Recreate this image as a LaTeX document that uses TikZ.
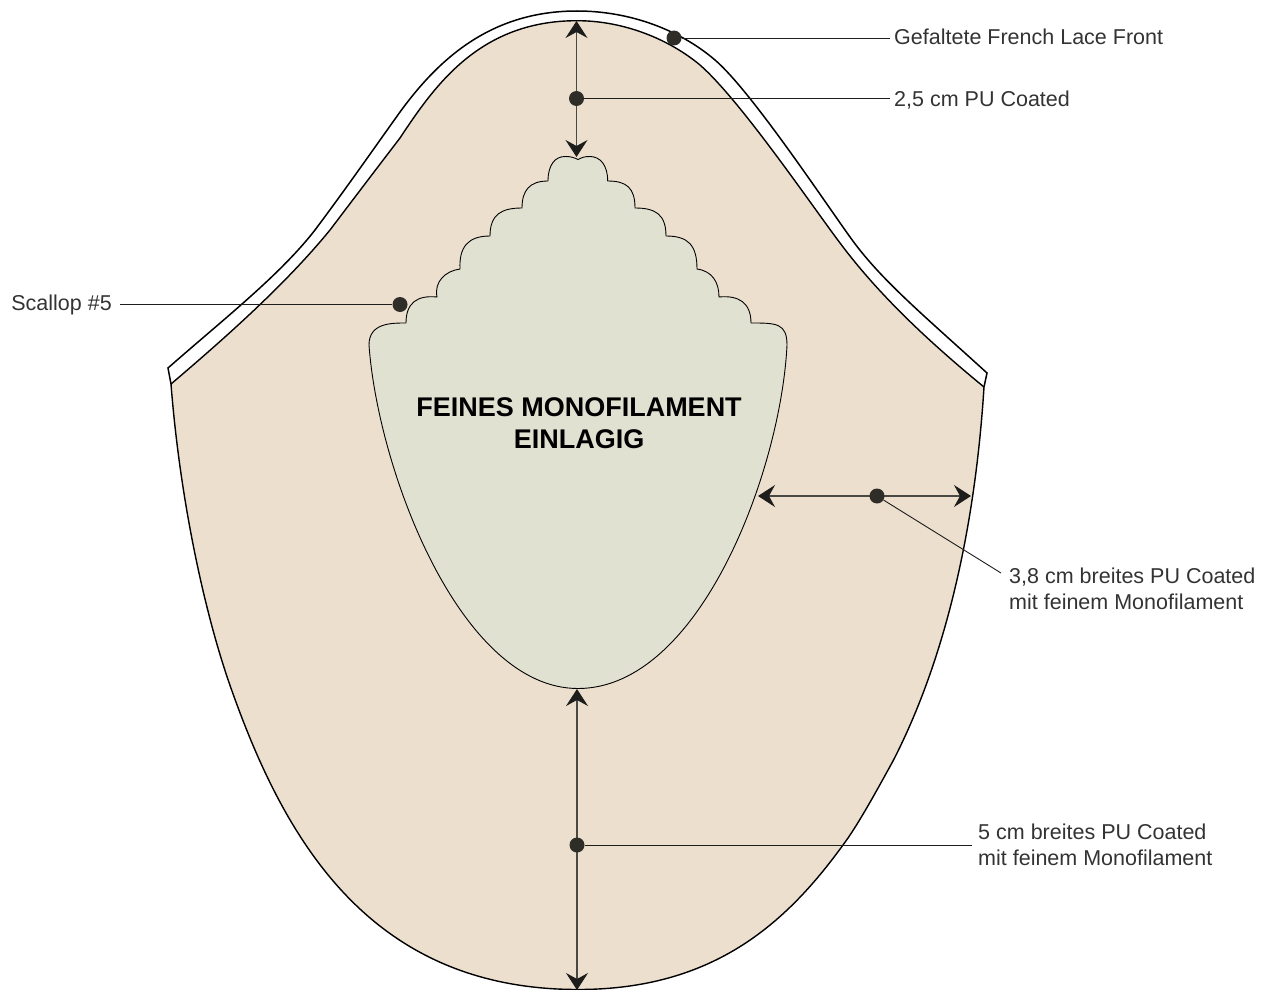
\documentclass[tikz,border=0pt]{standalone}
\usepackage{fontspec}
\setmainfont{Liberation Sans}
\usetikzlibrary{arrows.meta}
\definecolor{capcolor}{HTML}{EDDFCE}
\definecolor{monocolor}{HTML}{E1E1D2}
\definecolor{dotcolor}{HTML}{2F2D28}
\definecolor{tipcolor}{HTML}{1D1D1B}
\definecolor{shaftcolor}{HTML}{4A4843}

\begin{document}
\begin{tikzpicture}[x=1pt, y=-1pt]
    \tikzset{
        every node/.style={font=\fontsize{21.5}{26}\selectfont, text=black!80},
        callout/.style={inner sep=4pt, anchor=west, align=left},
        dot/.style={circle, fill=dotcolor, inner sep=0pt, minimum size=15pt},
        leader/.style={line width=0.9pt, color=tipcolor},
        span/.style={{Stealth[length=17pt, width=22pt, inset=6pt, color=tipcolor]}-{Stealth[length=17pt, width=22pt, inset=6pt, color=tipcolor]}, line width=1.1pt, color=shaftcolor}
    }
    \useasboundingbox (0, 0) rectangle (1275, 990);

    % 1. Key coordinates
    \coordinate (LaceL) at (168, 368);
    \coordinate (LaceR) at (987, 373);
    \coordinate (CapL) at (171, 384);
    \coordinate (CapR) at (984, 387);

    % 2. Cap body: inner edge of the lace, then the lower rim
    \draw[fill=capcolor, line width=1.4pt, line join=miter] (CapL)
        .. controls (225,338) and (285,285) .. (330,230)
        .. controls (355,197) and (377,168) .. (400,138)
        .. controls (435,85) and (480,20.7) .. (577,20.7)
        .. controls (625,20.7) and (670,40) .. (700,65)
        .. controls (740,100) and (810,203) .. (840,243)
        .. controls (870,283) and (912,328) .. (CapR)
        .. controls (975,530) and (945,660) .. (893,761)
        .. controls (877,790) and (858,825) .. (843,845)
        .. controls (785,925) and (712,989.5) .. (578,989.5)
        .. controls (370,989.5) and (285,840) .. (232,691)
        .. controls (205,616) and (180,500) .. (CapL)
        -- cycle;

    % 3. French Lace band
    \draw[line width=1.5pt, line join=miter] (CapL) -- (LaceL)
        .. controls (225,318) and (280,275) .. (315,230)
        .. controls (345,190) and (375,147) .. (400,112)
        .. controls (438,60) and (490,11) .. (577,11)
        .. controls (630,11) and (680,30) .. (715,60)
        .. controls (750,90) and (820,195) .. (850,237)
        .. controls (880,279) and (920,312) .. (LaceR)
        -- (CapR);

    % 4. Monofilament panel with scallops
    \draw[fill=monocolor, line width=0.9pt]
        (578,159.5)
        .. controls +(4,-2) and +(-6,0) .. (590,156.5)
        .. controls +(10,0) and +(0,-16) .. (607.7,181)
        .. controls +(19,0) and +(0,-20) .. (635,208)
        .. controls +(20,0) and +(0,-22) .. (666,236)
        .. controls +(22,0) and +(0,-24) .. (697,269)
        .. controls +(15,2) and +(0,-15) .. (719,297)
        .. controls +(20,-2) and +(0,-20) .. (751,323)
        .. controls +(25,0) and +(0,-22) .. (787,345)
        .. controls (781,470) and (700,688.5) .. (578,688.5)
        .. controls (460,688.5) and (378,470) .. (369,345)
        .. controls +(0,-22) and +(-15,0) .. (406,323)
        .. controls +(0,-20) and +(-20,-2) .. (437,297)
        .. controls +(-3,-15) and +(-15,2) .. (460,269)
        .. controls +(-1,-22) and +(-22,0) .. (490,236)
        .. controls +(0,-22) and +(-20,0) .. (522,208)
        .. controls +(0,-18) and +(-18,0) .. (548,181)
        .. controls +(0,-16) and +(-10,0) .. (565,156.5)
        .. controls +(6,0) and +(-4,-2) .. (578,159.5)
        -- cycle;
    \node[font=\fontsize{27}{32}\selectfont\bfseries, text=black, align=center] (mono) at (579, 423) {FEINES MONOFILAMENT\\EINLAGIG};

    % 5. Dimension arrows
    \coordinate (TopA) at (576.5, 21);
    \coordinate (TopB) at (576.5, 157);
    \coordinate (BotA) at (577, 689);
    \coordinate (BotB) at (577, 990);
    \coordinate (SideA) at (758, 496);
    \coordinate (SideB) at (971, 496);
    \draw[span] (TopA) -- (TopB);
    \draw[span] (BotA) -- (BotB);
    \draw[span] (SideA) -- (SideB);

    % 6. Labels
    \node[callout] (lace) at (890, 37) {Gefaltete French Lace Front};
    \node[callout] (pu) at (890, 100) {2,5 cm PU Coated};
    \node[callout, anchor=east, inner sep=8pt] (scallop) at (120, 305) {Scallop \#5};
    \node[callout] (breit) at (1005, 589) {3,8 cm breites PU Coated\\mit feinem Monofilament};
    \node[callout, inner sep=6pt] (bottom) at (972, 845) {5 cm breites PU Coated\\mit feinem Monofilament};
    \coordinate (BreitEnd) at (1001, 573);

    % 7. Dots and leader lines
    \node[dot] (dotLace) at (674, 38) {};
    \node[dot] (dotPu) at (576.5, 98.5) {};
    \node[dot] (dotScallop) at (400, 304.5) {};
    \node[dot] (dotSide) at (877, 496) {};
    \node[dot] (dotBottom) at (577, 845) {};
    \draw[leader] (dotLace) -- (lace.west |- dotLace);
    \draw[leader] (dotPu) -- (pu.west |- dotPu);
    \draw[leader] (dotScallop) -- (scallop.east |- dotScallop);
    \draw[leader] (dotSide) -- (BreitEnd);
    \draw[leader] (dotBottom) -- (bottom);
\end{tikzpicture}
\end{document}
